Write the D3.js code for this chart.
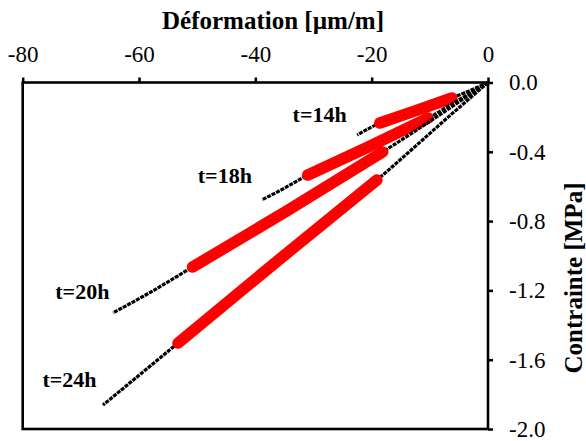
<!DOCTYPE html>
<html>
<head>
<meta charset="utf-8">
<script src="https://cdn.jsdelivr.net/npm/d3@7/dist/d3.min.js"></script>
<style type="text/css">
	body { margin: 0; background: #ffffff; }
	text { font-family: "Times New Roman", "Liberation Serif", serif; fill: #000; }
	.tick line { stroke: #000; stroke-width: 2.5; }
	.domain { stroke: none; }
	.tick text { font-size: 23px; }
	.title { font-size: 25px; font-weight: bold; }
	.lab { font-size: 22px; font-weight: bold; }
	.black { fill: none; stroke: #000; stroke-width: 3.2; stroke-dasharray: 4,1; }
	.red { fill: none; stroke: #ff0000; stroke-width: 11.5; stroke-linecap: round; stroke-linejoin: round; }
	.dots { fill: none; stroke: #000; stroke-width: 1; stroke-dasharray: 1,9; opacity: 0.6; }
</style>
</head>
<body>
<div id=chart></div>
<script>

// deformation [µm/m] and stress [MPa]
var series = ['t=14h', 't=18h', 't=20h', 't=24h'];

var strain14 = [0, -2, -6.2, -12.4, -18.6, -22.5];
var stress14 = [0, -0.03, -0.089, -0.162, -0.234, -0.303];

var strain18 = [0, -4, -10.3, -20.6, -31.0, -35, -38.9];
var stress18 = [0, -0.08, -0.205, -0.372, -0.534, -0.61, -0.678];

var strain20 = [0, -6, -18.1, -34.5, -50.8, -58, -64.5];
var stress20 = [0, -0.135, -0.401, -0.74, -1.065, -1.21, -1.33];

var strain24 = [0, -6, -19.1, -36.2, -53.3, -60, -66.2];
var stress24 = [0, -0.175, -0.563, -1.03, -1.504, -1.69, -1.862];

// index of first and last point of the red part of each curve
var redFrom = [2, 2, 2, 2];
var redTo   = [4, 4, 4, 4];

// label anchor (deformation, stress) for each curve
var labelStrain = [-33.6, -49.9, -74.4, -76.6];
var labelStress = [-0.228, -0.58, -1.25, -1.76];

var xTicks = [-80, -60, -40, -20, 0];
var xTickLabels = ['-80', '-60', '-40', '-20', '0'];
var yTicks = [0, -0.4, -0.8, -1.2, -1.6, -2.0];
var yTickLabels = ['0.0', '-0.4', '-0.8', '-1.2', '-1.6', '-2.0'];

var W = 586, H = 441;
var plotL = 22.7, plotR = 488, plotT = 82.5, plotB = 429;

var svg = d3.select("#chart").append("svg")
	.attr("width", W)
	.attr("height", H);

var x = d3.scaleLinear().domain([-80, 0]).range([plotL, plotR]);
var y = d3.scaleLinear().domain([0, -2]).range([plotT, plotB]);

// axes
svg.append("g")
	.attr("transform", "translate(0," + plotT + ")")
	.call(d3.axisTop(x).tickValues(xTicks).tickSize(5).tickPadding(16)
		.tickFormat(function(d, i) { return xTickLabels[i]; }));

svg.append("g")
	.attr("transform", "translate(" + plotR + ",0)")
	.call(d3.axisRight(y).tickValues(yTicks).tickSize(5).tickPadding(16)
		.tickFormat(function(d, i) { return yTickLabels[i]; }));

// frame
svg.append("rect")
	.attr("x", plotL).attr("y", plotT)
	.attr("width", plotR - plotL).attr("height", plotB - plotT)
	.attr("fill", "none").attr("stroke", "#000").attr("stroke-width", 2.6);

svg.append("text").attr("class", "title")
	.attr("x", 273).attr("y", 29)
	.attr("text-anchor", "middle")
	.text("Déformation [µm/m]");

svg.append("text").attr("class", "title")
	.attr("transform", "translate(582,278) rotate(-90)")
	.attr("text-anchor", "middle")
	.text("Contrainte [MPa]");

// curves
var strains = [strain14, strain18, strain20, strain24];
var stresses = [stress14, stress18, stress20, stress24];

var line = d3.line()
	.x(function(d) { return x(d[0]); })
	.y(function(d) { return y(d[1]); })
	.curve(d3.curveMonotoneX);

var plot = svg.append("g");

for (var s = 0; s < series.length; s++) {
	var pts = strains[s].map(function(v, i) { return [v, stresses[s][i]]; });
	plot.append("path").datum(pts).attr("class", "black").attr("d", line);
	var redPts = pts.slice(redFrom[s], redTo[s] + 1);
	plot.append("path").datum(redPts).attr("class", "red").attr("d", line);
	plot.append("path").datum(redPts).attr("class", "dots").attr("d", line);
	svg.append("text").attr("class", "lab")
		.attr("x", x(labelStrain[s])).attr("y", y(labelStress[s]))
		.text(series[s]);
}

</script>
</body>
</html>
